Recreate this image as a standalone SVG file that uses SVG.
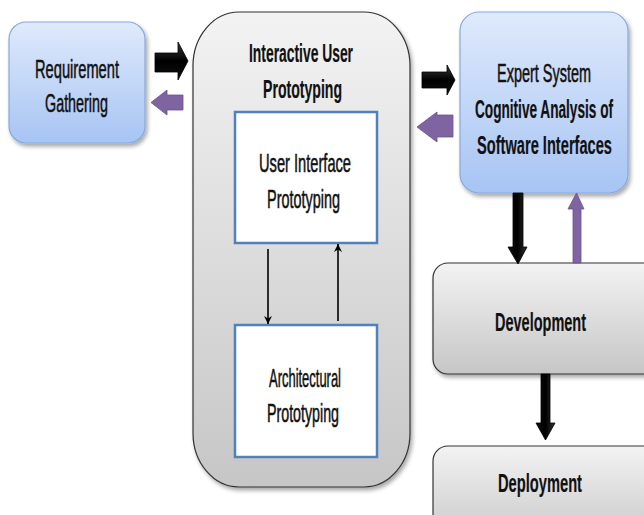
<svg xmlns="http://www.w3.org/2000/svg" width="644" height="515" viewBox="0 0 644 515">
<defs>
<linearGradient id="blue" x1="0" y1="0" x2="0" y2="1">
<stop offset="0" stop-color="#dfeafc"/>
<stop offset="1" stop-color="#a7c4f3"/>
</linearGradient>
<linearGradient id="gray" x1="0" y1="0" x2="0" y2="1">
<stop offset="0" stop-color="#f3f3f3"/>
<stop offset="1" stop-color="#c6c6c6"/>
</linearGradient>
<linearGradient id="blk" x1="0" y1="0" x2="0" y2="1">
<stop offset="0" stop-color="#3a3a3a"/>
<stop offset="0.5" stop-color="#000"/>
<stop offset="1" stop-color="#111"/>
</linearGradient>
<linearGradient id="blkv" x1="0" y1="0" x2="1" y2="0">
<stop offset="0" stop-color="#111"/>
<stop offset="0.5" stop-color="#000"/>
<stop offset="1" stop-color="#333"/>
</linearGradient>
<filter id="sh" x="-10%" y="-10%" width="130%" height="130%">
<feGaussianBlur in="SourceAlpha" stdDeviation="2"/>
<feOffset dx="1.5" dy="2.5"/>
<feComponentTransfer><feFuncA type="linear" slope="0.35"/></feComponentTransfer>
<feMerge><feMergeNode/><feMergeNode in="SourceGraphic"/></feMerge>
</filter>
<marker id="ah" viewBox="0 0 10 10" refX="10" refY="5" markerWidth="8" markerHeight="8" markerUnits="userSpaceOnUse" orient="auto">
<path d="M0,0 L10,5 L0,10 L3,5 Z" fill="#000"/>
</marker>
</defs>
<style>
text{font-family:"Liberation Sans",Arial,sans-serif;font-size:14px;fill:#111;text-anchor:middle;stroke:#111;stroke-width:0.3}
.b{font-weight:bold;stroke-width:0.1}
.bluebox{fill:url(#blue);stroke:#86a9dd;stroke-width:1.2}
.graybox{fill:url(#gray);stroke:#333;stroke-width:1.2}
.white{fill:#fff;stroke:#4f81bd;stroke-width:2.5}
.ba{fill:url(#blk);stroke:#000;stroke-width:0.8}
.bv{fill:url(#blkv);stroke:#000;stroke-width:0.8}
.pa{fill:#8064a2;stroke:#6a5090;stroke-width:0.8}
.thin{stroke:#000;stroke-width:1.6;fill:none}
</style>
<rect width="644" height="515" fill="#fff"/>

<g id="requirement">
<rect class="bluebox" x="9" y="22" width="136" height="121" rx="17" filter="url(#sh)"/>
<text transform="translate(77,78) scale(1,1.86)" textLength="84" lengthAdjust="spacingAndGlyphs">Requirement</text>
<text transform="translate(76.5,112) scale(1,1.86)" textLength="63" lengthAdjust="spacingAndGlyphs">Gathering</text>
</g>

<g id="interactive">
<rect class="graybox" x="193" y="12" width="217" height="475" rx="46" ry="54" stroke="#444" filter="url(#sh)"/>
<text class="b" transform="translate(301,62) scale(1,1.86)" textLength="104" lengthAdjust="spacingAndGlyphs">Interactive User</text>
<text class="b" transform="translate(302.5,98) scale(1,1.86)" textLength="79" lengthAdjust="spacingAndGlyphs">Prototyping</text>
</g>

<g id="ui">
<rect class="white" x="235" y="112" width="142" height="131"/>
<text transform="translate(305,172) scale(1,1.86)" textLength="92" lengthAdjust="spacingAndGlyphs">User Interface</text>
<text transform="translate(303.5,208) scale(1,1.86)" textLength="73" lengthAdjust="spacingAndGlyphs">Prototyping</text>
</g>

<g id="arch">
<rect class="white" x="235" y="325" width="142" height="132"/>
<text transform="translate(305,387) scale(1,1.86)" textLength="72" lengthAdjust="spacingAndGlyphs">Architectural</text>
<text transform="translate(303,422) scale(1,1.86)" textLength="72" lengthAdjust="spacingAndGlyphs">Prototyping</text>
</g>

<g id="expert">
<rect class="bluebox" x="460" y="12" width="168" height="181" rx="19" filter="url(#sh)"/>
<text transform="translate(544,82) scale(1,1.86)" textLength="94" lengthAdjust="spacingAndGlyphs">Expert System</text>
<text class="b" transform="translate(544,118) scale(1,1.86)" textLength="138" lengthAdjust="spacingAndGlyphs">Cognitive Analysis of</text>
<text class="b" transform="translate(544.5,154) scale(1,1.86)" textLength="135" lengthAdjust="spacingAndGlyphs">Software Interfaces</text>
</g>

<g id="development">
<rect class="graybox" x="433" y="263" width="230" height="111" rx="15" filter="url(#sh)"/>
<text class="b" transform="translate(540.5,331) scale(1,1.86)" textLength="91" lengthAdjust="spacingAndGlyphs">Development</text>
</g>

<g id="deployment">
<rect class="graybox" x="433" y="446" width="230" height="100" rx="15"/>
<text class="b" transform="translate(540,492) scale(1,1.86)" textLength="84" lengthAdjust="spacingAndGlyphs">Deployment</text>
</g>

<g id="connectors">
<path class="ba" d="M155,53 H178 V42 L188,61 L178,80 V72 H155 Z"/>
<path class="pa" d="M183,95 H167 V90 L151,102.5 L167,115 V110 H183 Z"/>
<path class="ba" d="M422,72 H447 V65 L455,80 L447,95 V88 H422 Z"/>
<path class="pa" d="M453,115 H437 V112 L417,127 L437,142 V137 H453 Z"/>
<path class="bv" d="M513,193 V247 H508 L518,264 L527,247 H523 V193 Z"/>
<path class="pa" d="M573,263 V209 H568 L576.5,193 L584,209 H581 V263 Z"/>
<path class="bv" d="M541,374 V423 H536 L545.5,440 L555,423 H550 V374 Z"/>
<line class="thin" x1="268" y1="249" x2="268" y2="324" marker-end="url(#ah)"/>
<line class="thin" x1="338" y1="321" x2="338" y2="244" marker-end="url(#ah)"/>
</g>
</svg>
